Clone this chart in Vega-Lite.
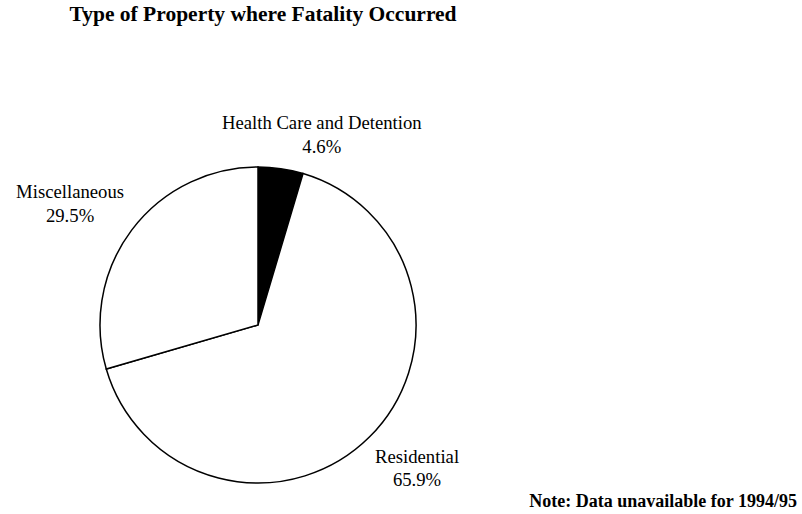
{
  "$schema": "https://vega.github.io/schema/vega-lite/v6.json",
  "autosize": {"type": "none"},
  "padding": {"left": 0, "top": 146, "right": 286, "bottom": 10},
  "background": "white",
  "width": 516,
  "height": 358,
  "title": {"text": "Type of Property where Fatality Occurred", "font": "Liberation Serif", "fontSize": 21.5, "fontWeight": "bold", "color": "black", "anchor": "middle", "frame": "group", "orient": "top", "baseline": "alphabetic", "offset": 86, "dx": 5, "dy": 37},
  "data": {
    "values": [
      {"category": "Health Care and Detention", "share": 0.046},
      {"category": "Residential", "share": 0.659},
      {"category": "Miscellaneous", "share": 0.295}
    ]
  },
  "view": {"stroke": null},
  "layer": [
    {
      "mark": {"type": "arc", "radius": 158, "stroke": "black", "strokeWidth": 1.5},
      "encoding": {
        "theta": {"field": "share", "type": "quantitative", "stack": true},
        "fill": {"condition": {"test": "datum.category === 'Health Care and Detention'", "value": "black"}, "value": "white"}
      }
    },
    {
      "mark": {"type": "text", "radius": 200, "dx": 35, "dy": 2, "align": "center", "baseline": "alphabetic", "font": "Liberation Serif", "fontSize": 18.7, "color": "black", "text": {"expr": "datum.category === 'Health Care and Detention' ? datum.category : ''"}},
      "encoding": {"theta": {"field": "share", "type": "quantitative", "stack": true}}
    },
    {
      "mark": {"type": "text", "radius": 200, "dx": 35, "dy": 26, "align": "center", "baseline": "alphabetic", "font": "Liberation Serif", "fontSize": 18.7, "color": "black", "text": {"expr": "datum.category === 'Health Care and Detention' ? format(datum.share, '.1%') : ''"}},
      "encoding": {"theta": {"field": "share", "type": "quantitative", "stack": true}}
    },
    {
      "mark": {"type": "text", "radius": 220, "dx": -12, "dy": 5, "align": "center", "baseline": "alphabetic", "font": "Liberation Serif", "fontSize": 18.7, "color": "black", "text": {"expr": "datum.category === 'Miscellaneous' ? datum.category : ''"}},
      "encoding": {"theta": {"field": "share", "type": "quantitative", "stack": true}}
    },
    {
      "mark": {"type": "text", "radius": 220, "dx": -12, "dy": 29, "align": "center", "baseline": "alphabetic", "font": "Liberation Serif", "fontSize": 18.7, "color": "black", "text": {"expr": "datum.category === 'Miscellaneous' ? format(datum.share, '.1%') : ''"}},
      "encoding": {"theta": {"field": "share", "type": "quantitative", "stack": true}}
    },
    {
      "mark": {"type": "text", "radius": 210, "dx": 11, "dy": -11, "align": "center", "baseline": "alphabetic", "font": "Liberation Serif", "fontSize": 18.7, "color": "black", "text": {"expr": "datum.category === 'Residential' ? datum.category : ''"}},
      "encoding": {"theta": {"field": "share", "type": "quantitative", "stack": true}}
    },
    {
      "mark": {"type": "text", "radius": 210, "dx": 11, "dy": 12, "align": "center", "baseline": "alphabetic", "font": "Liberation Serif", "fontSize": 18.7, "color": "black", "text": {"expr": "datum.category === 'Residential' ? format(datum.share, '.1%') : ''"}},
      "encoding": {"theta": {"field": "share", "type": "quantitative", "stack": true}}
    },
    {
      "data": {"values": [{"note": "Note: Data unavailable for 1994/95"}]},
      "mark": {"type": "text", "x": {"expr": "width + 281"}, "y": {"expr": "height + 3"}, "align": "right", "baseline": "alphabetic", "font": "Liberation Serif", "fontSize": 18, "fontWeight": "bold", "color": "black"},
      "encoding": {"text": {"field": "note", "type": "nominal"}}
    }
  ]
}
